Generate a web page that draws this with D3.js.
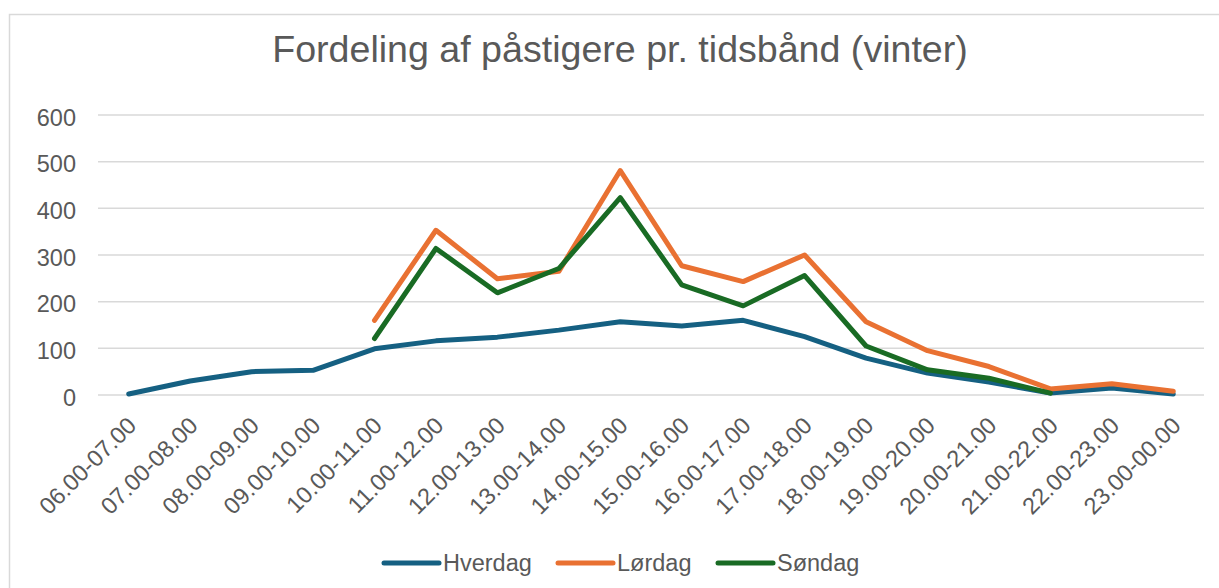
<!DOCTYPE html>
<html><head><meta charset="utf-8">
<script src="https://cdn.jsdelivr.net/npm/d3@7"></script>
<style>html,body{margin:0;padding:0;background:#fff;}svg{display:block;font-family:"Liberation Sans",Arial,sans-serif;}</style>
</head><body>
<svg id="c" width="1219" height="588"></svg>
<script>
const categories = ["06.00-07.00","07.00-08.00","08.00-09.00","09.00-10.00","10.00-11.00","11.00-12.00","12.00-13.00","13.00-14.00","14.00-15.00","15.00-16.00","16.00-17.00","17.00-18.00","18.00-19.00","19.00-20.00","20.00-21.00","21.00-22.00","22.00-23.00","23.00-00.00"];
const hverdag = [2,30,50,53,99,116,124,139,157,148,160,125,79,47,28,4,15,2];
const lordag  = [null,null,null,null,160,353,249,265,481,277,243,300,157,95,61,13,24,8];
const sondag  = [null,null,null,null,121,314,219,271,423,236,191,256,105,54,36,4,null,null];
const yTicks = [0,100,200,300,400,500,600];
const seriesNames = ["Hverdag","Lørdag","Søndag"];
const colors = ["#156082","#E97132","#196B24"];
const title = "Fordeling af påstigere pr. tidsbånd (vinter)";

const svg = d3.select("#c");
const txt = "#595959";
svg.append("rect").attr("x",9.5).attr("y",14.5).attr("width",1400).attr("height",800)
  .attr("fill","#fff").attr("stroke","#d9d9d9").attr("stroke-width",1.5);

const x = d3.scalePoint().domain(categories).range([98,1204]).padding(0.5);
const y = d3.scaleLinear().domain([0,600]).range([395,115]);

svg.append("text").attr("x",620).attr("y",62).attr("text-anchor","middle")
  .attr("font-size",37.6).attr("fill",txt).text(title);

// gridlines
svg.append("g").selectAll("line").data(yTicks).join("line")
  .attr("x1",98).attr("x2",1204).attr("y1",d=>y(d)).attr("y2",d=>y(d))
  .attr("stroke","#d9d9d9").attr("stroke-width",1.5);

// y labels
svg.append("g").selectAll("text").data(yTicks).join("text")
  .attr("x",76).attr("y",d=>y(d)+10.5).attr("text-anchor","end")
  .attr("font-size",23.5).attr("fill",txt).text(d=>d);

// x labels
svg.append("g").selectAll("text").data(categories).join("text")
  .attr("transform",d=>`translate(${x(d)+9},427) rotate(-45)`)
  .attr("text-anchor","end").attr("font-size",23.5).attr("fill",txt).text(d=>d);

const all = [hverdag,lordag,sondag];
const line = d3.line().defined(d=>d[1]!=null).x(d=>x(d[0])).y(d=>y(d[1]));
all.forEach((s,i)=>{
  svg.append("path").datum(categories.map((c,j)=>[c,s[j]]))
    .attr("d",line).attr("fill","none").attr("stroke",colors[i])
    .attr("stroke-width",5).attr("stroke-linejoin","round").attr("stroke-linecap","round");
});

// legend
const legX = [384,558,718];
seriesNames.forEach((n,i)=>{
  svg.append("line").attr("x1",legX[i]).attr("x2",legX[i]+55).attr("y1",563).attr("y2",563)
    .attr("stroke",colors[i]).attr("stroke-width",5).attr("stroke-linecap","round");
  svg.append("text").attr("x",legX[i]+59).attr("y",571).attr("font-size",23.5).attr("fill",txt).text(n);
});
</script>
</body></html>
